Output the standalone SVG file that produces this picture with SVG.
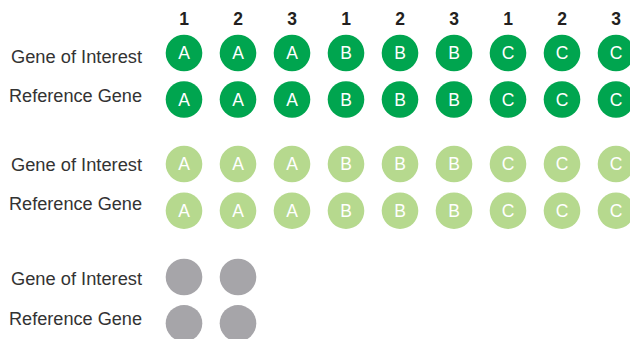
<svg xmlns="http://www.w3.org/2000/svg" width="630" height="339" viewBox="0 0 630 339">
<style>
.lbl{font-family:"Liberation Sans",Arial,sans-serif;font-size:18px;fill:#333;text-anchor:end}
.hdr{font-family:"Liberation Sans",Arial,sans-serif;font-size:17.5px;font-weight:bold;fill:#231f20;text-anchor:middle}
.let{font-family:"Liberation Sans",Arial,sans-serif;font-size:17.5px;fill:#fff;text-anchor:middle}
.dk{fill:#00a54f}
.lt{fill:#b6d98e}
.gy{fill:#a6a5a9}
</style>
<rect width="630" height="339" fill="#fff"/>
<g id="headers">
<text class="hdr" x="184" y="25">1</text>
<text class="hdr" x="238" y="25">2</text>
<text class="hdr" x="292" y="25">3</text>
<text class="hdr" x="346" y="25">1</text>
<text class="hdr" x="400" y="25">2</text>
<text class="hdr" x="454" y="25">3</text>
<text class="hdr" x="508" y="25">1</text>
<text class="hdr" x="562" y="25">2</text>
<text class="hdr" x="616" y="25">3</text>
</g>
<g id="labels">
<text class="lbl" x="142" y="63" textLength="131" lengthAdjust="spacingAndGlyphs">Gene of Interest</text>
<text class="lbl" x="142" y="102" textLength="133" lengthAdjust="spacingAndGlyphs">Reference Gene</text>
<text class="lbl" x="142" y="171" textLength="131" lengthAdjust="spacingAndGlyphs">Gene of Interest</text>
<text class="lbl" x="142" y="210" textLength="133" lengthAdjust="spacingAndGlyphs">Reference Gene</text>
<text class="lbl" x="142" y="285" textLength="131" lengthAdjust="spacingAndGlyphs">Gene of Interest</text>
<text class="lbl" x="142" y="325" textLength="133" lengthAdjust="spacingAndGlyphs">Reference Gene</text>
</g>
<g id="dark-row1">
<circle class="dk" cx="184" cy="53" r="18.3"/><text class="let" x="184" y="59.3">A</text>
<circle class="dk" cx="238" cy="53" r="18.3"/><text class="let" x="238" y="59.3">A</text>
<circle class="dk" cx="292" cy="53" r="18.3"/><text class="let" x="292" y="59.3">A</text>
<circle class="dk" cx="346" cy="53" r="18.3"/><text class="let" x="346" y="59.3">B</text>
<circle class="dk" cx="400" cy="53" r="18.3"/><text class="let" x="400" y="59.3">B</text>
<circle class="dk" cx="454" cy="53" r="18.3"/><text class="let" x="454" y="59.3">B</text>
<circle class="dk" cx="508" cy="53" r="18.3"/><text class="let" x="508" y="59.3">C</text>
<circle class="dk" cx="562" cy="53" r="18.3"/><text class="let" x="562" y="59.3">C</text>
<circle class="dk" cx="616" cy="53" r="18.3"/><text class="let" x="616" y="59.3">C</text>
</g>
<g id="dark-row2">
<circle class="dk" cx="184" cy="99.5" r="18.3"/><text class="let" x="184" y="105.8">A</text>
<circle class="dk" cx="238" cy="99.5" r="18.3"/><text class="let" x="238" y="105.8">A</text>
<circle class="dk" cx="292" cy="99.5" r="18.3"/><text class="let" x="292" y="105.8">A</text>
<circle class="dk" cx="346" cy="99.5" r="18.3"/><text class="let" x="346" y="105.8">B</text>
<circle class="dk" cx="400" cy="99.5" r="18.3"/><text class="let" x="400" y="105.8">B</text>
<circle class="dk" cx="454" cy="99.5" r="18.3"/><text class="let" x="454" y="105.8">B</text>
<circle class="dk" cx="508" cy="99.5" r="18.3"/><text class="let" x="508" y="105.8">C</text>
<circle class="dk" cx="562" cy="99.5" r="18.3"/><text class="let" x="562" y="105.8">C</text>
<circle class="dk" cx="616" cy="99.5" r="18.3"/><text class="let" x="616" y="105.8">C</text>
</g>
<g id="light-row1">
<circle class="lt" cx="184" cy="164" r="18.3"/><text class="let" x="184" y="170.3">A</text>
<circle class="lt" cx="238" cy="164" r="18.3"/><text class="let" x="238" y="170.3">A</text>
<circle class="lt" cx="292" cy="164" r="18.3"/><text class="let" x="292" y="170.3">A</text>
<circle class="lt" cx="346" cy="164" r="18.3"/><text class="let" x="346" y="170.3">B</text>
<circle class="lt" cx="400" cy="164" r="18.3"/><text class="let" x="400" y="170.3">B</text>
<circle class="lt" cx="454" cy="164" r="18.3"/><text class="let" x="454" y="170.3">B</text>
<circle class="lt" cx="508" cy="164" r="18.3"/><text class="let" x="508" y="170.3">C</text>
<circle class="lt" cx="562" cy="164" r="18.3"/><text class="let" x="562" y="170.3">C</text>
<circle class="lt" cx="616" cy="164" r="18.3"/><text class="let" x="616" y="170.3">C</text>
</g>
<g id="light-row2">
<circle class="lt" cx="184" cy="210.7" r="18.3"/><text class="let" x="184" y="217">A</text>
<circle class="lt" cx="238" cy="210.7" r="18.3"/><text class="let" x="238" y="217">A</text>
<circle class="lt" cx="292" cy="210.7" r="18.3"/><text class="let" x="292" y="217">A</text>
<circle class="lt" cx="346" cy="210.7" r="18.3"/><text class="let" x="346" y="217">B</text>
<circle class="lt" cx="400" cy="210.7" r="18.3"/><text class="let" x="400" y="217">B</text>
<circle class="lt" cx="454" cy="210.7" r="18.3"/><text class="let" x="454" y="217">B</text>
<circle class="lt" cx="508" cy="210.7" r="18.3"/><text class="let" x="508" y="217">C</text>
<circle class="lt" cx="562" cy="210.7" r="18.3"/><text class="let" x="562" y="217">C</text>
<circle class="lt" cx="616" cy="210.7" r="18.3"/><text class="let" x="616" y="217">C</text>
</g>
<g id="gray-row1">
<circle class="gy" cx="184" cy="277" r="18.3"/>
<circle class="gy" cx="238" cy="277" r="18.3"/>
</g>
<g id="gray-row2">
<circle class="gy" cx="184" cy="323.3" r="18.3"/>
<circle class="gy" cx="238" cy="323.3" r="18.3"/>
</g>
<g id="connectors"/>
</svg>
